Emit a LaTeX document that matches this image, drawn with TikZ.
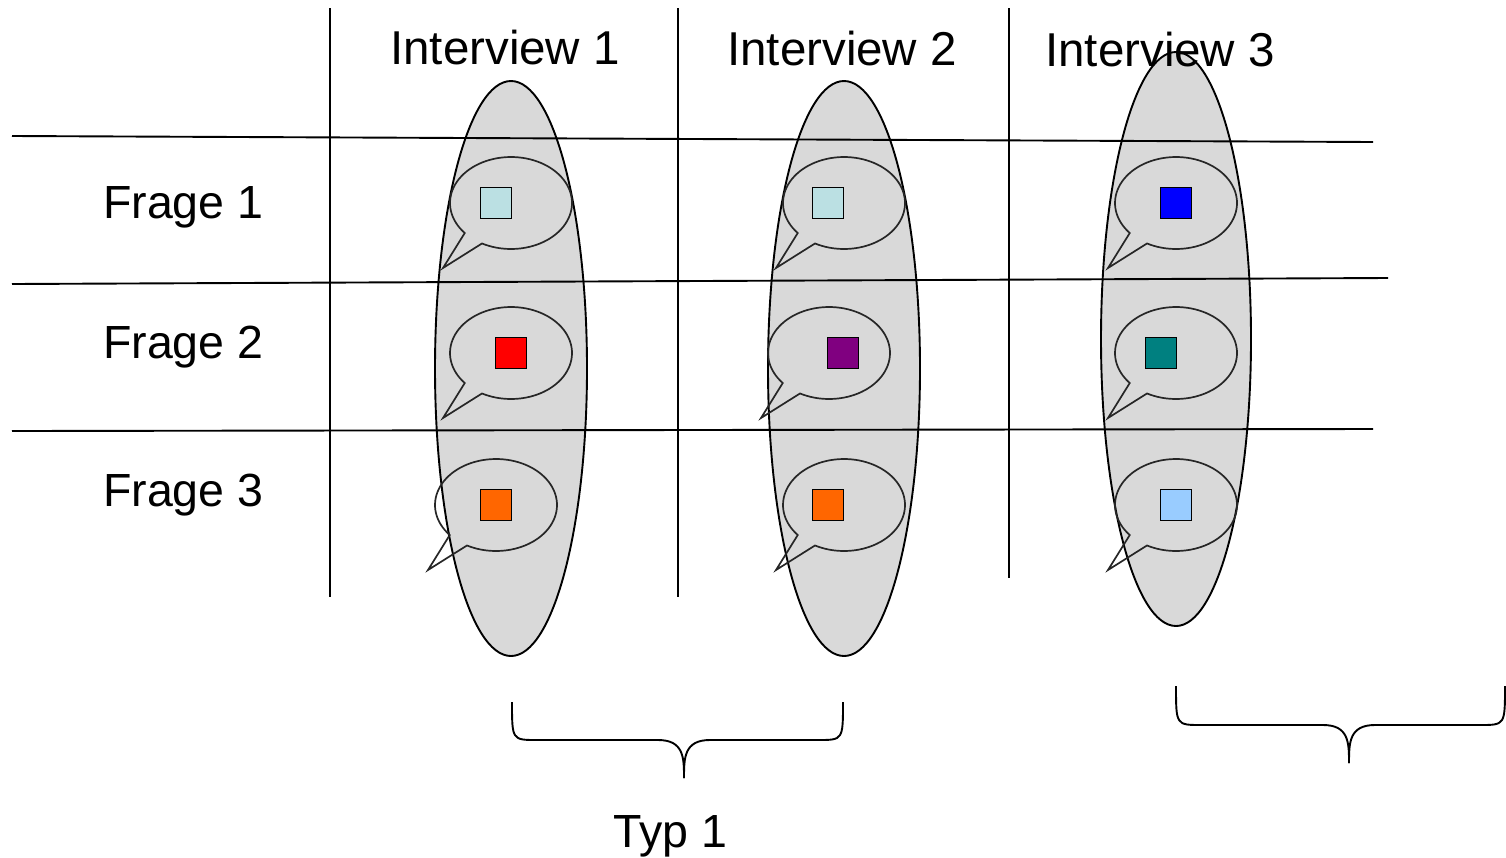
\documentclass[tikz,border=0pt]{standalone}
\usepackage{fontspec}
\setmainfont{Liberation Sans}
\begin{document}
\begin{tikzpicture}[x=1pt,y=-1pt,
  ln/.style={line width=1.9pt,black},
  grp/.style={line width=1.9pt,draw=black},
  bub/.style={line width=1.7pt,draw=black!85,line join=miter},
  sq/.style={draw=black,line width=1.9pt,minimum size=31pt,inner sep=0pt},
  lbl/.style={inner sep=0pt,anchor=base west,font=\fontsize{47.5}{56}\selectfont},
  flbl/.style={lbl,font=\fontsize{46.5}{55}\selectfont},
  brc/.style={line width=1.9pt,black}]
\definecolor{lcyan}{HTML}{BBE0E3}
\definecolor{lblue}{HTML}{99CCFF}
\definecolor{orng}{HTML}{FF6600}
\definecolor{grpfill}{HTML}{D9D9D9}
\definecolor{purp}{HTML}{800080}
\definecolor{teal2}{HTML}{008080}
\useasboundingbox (0,0) rectangle (1506,857);
% group ellipses
\draw[grp,fill=grpfill] (511,368.5) ellipse [x radius=76, y radius=287.5];
\draw[grp,fill=grpfill] (844,368.5) ellipse [x radius=76, y radius=287.5];
\draw[grp,fill=grpfill] (1176,339) ellipse [x radius=75, y radius=287];
% grid
\draw[ln] (330,8) -- (330,597);
\draw[ln] (678,8) -- (678,597);
\draw[ln] (1009,8) -- (1009,578);
\draw[ln] (12,136) -- (1373,142);
\draw[ln] (12,284) -- (1388,278);
\draw[ln] (12,431) -- (1373,429);
% labels
\node[lbl] (i1) at (390,64) {Interview 1};
\node[lbl] (i2) at (727,65) {Interview 2};
\node[lbl] (i3) at (1045,66) {Interview 3};
\node[flbl] (f1) at (103,218) {Frage 1};
\node[flbl] (f2) at (103,358) {Frage 2};
\node[flbl] (f3) at (103,506) {Frage 3};
\node[flbl] (typ) at (613,847) {Typ 1};
% speech bubbles
\foreach \bx/\by in {511/203,844/203,1176/203,511/353,829/353,1176/353,496/505,844/505,1176/505}{
  \begin{scope}[shift={(\bx,\by)}]
    \draw[bub] (-68,65) -- plot[domain=139.3:478.4,samples=90] ({61*cos(\x)},{46*sin(\x)}) -- cycle;
  \end{scope}
}
% squares
\node[sq,fill=lcyan] (s11) at (496,203) {};
\node[sq,fill=lcyan] (s12) at (828,203) {};
\node[sq,fill=blue] (s13) at (1176,203) {};
\node[sq,fill=red] (s21) at (511,353) {};
\node[sq,fill=purp] (s22) at (843,353) {};
\node[sq,fill=teal2] (s23) at (1161,353) {};
\node[sq,fill=orng] (s31) at (496,505) {};
\node[sq,fill=orng] (s32) at (828,505) {};
\node[sq,fill=lblue] (s33) at (1176,505) {};
% braces
\draw[brc] (512,702) .. controls (512,740) and (512,740) .. (537,740) -- (658,740)
  .. controls (684,740) and (684,758) .. (684,778);
\draw[brc] (843,702) .. controls (843,740) and (843,740) .. (818,740) -- (710,740)
  .. controls (684,740) and (684,758) .. (684,778);
\draw[brc] (1176,686) .. controls (1176,725) and (1176,725) .. (1201,725) -- (1323,725)
  .. controls (1349,725) and (1349,743) .. (1349,763);
\draw[brc] (1505,686) .. controls (1505,725) and (1505,725) .. (1480,725) -- (1375,725)
  .. controls (1349,725) and (1349,743) .. (1349,763);
\end{tikzpicture}
\end{document}
